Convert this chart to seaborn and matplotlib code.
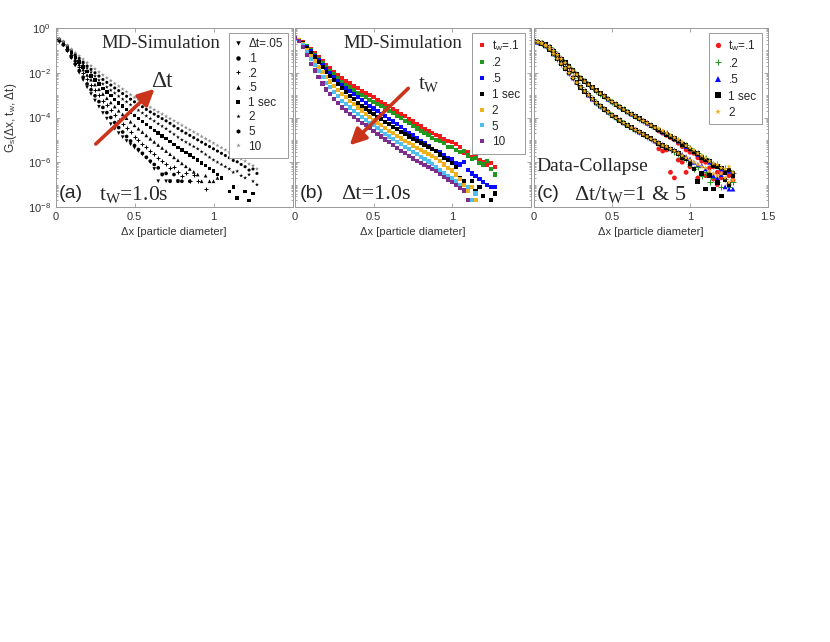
import numpy as np
import matplotlib
matplotlib.use("Agg")
import matplotlib.pyplot as plt
from matplotlib.lines import Line2D
from matplotlib.ticker import FixedLocator, LogLocator, NullFormatter
import seaborn as sns

nan = np.nan
STEP = 0.025  # bin width, particle diameters

# ---- panel (a): log10 Gs at tw = 1 s, one list per delta t ----
a_dt005 = [-0.50, -0.58, -0.77, -1.04, -1.35, -1.68, -2.00, -2.33, -2.65, -2.95,
           -3.24, -3.52, -3.80, -4.05, -4.30, -4.50, -4.70, -4.88, -5.05, -5.20,
           -5.35, -5.50, -5.65, -5.80, -6.00, -6.30, -6.85, -6.55, -6.85, -6.85,
           nan, -6.85]
a_dt01 = [-0.50, -0.57, -0.75, -1.00, -1.30, -1.60, -1.90, -2.20, -2.50, -2.76,
          -3.03, -3.29, -3.55, -3.78, -4.00, -4.23, -4.45, -4.65, -4.85, -5.05,
          -5.25, -5.43, -5.60, -5.78, -5.95, -6.10, -6.25, -6.55, -6.50, -6.85,
          -6.55, -6.85, -6.85, nan, -6.85]
a_dt02 = [-0.50, -0.56, -0.72, -0.95, -1.20, -1.48, -1.75, -2.03, -2.30, -2.54,
          -2.78, -3.01, -3.25, -3.46, -3.68, -3.89, -4.10, -4.29, -4.48, -4.66,
          -4.85, -5.01, -5.18, -5.34, -5.50, -5.65, -5.80, -5.95, -6.10, -6.25,
          -6.20, -6.45, -6.60, -6.50, -6.85, -6.55, -6.85, nan, -7.20]
a_dt05 = [-0.50, -0.55, -0.70, -0.91, -1.15, -1.39, -1.63, -1.86, -2.10, -2.31,
          -2.53, -2.74, -2.95, -3.14, -3.33, -3.51, -3.70, -3.86, -4.03, -4.19,
          -4.35, -4.50, -4.65, -4.80, -4.95, -5.09, -5.23, -5.36, -5.50, -5.64,
          -5.78, -5.91, -6.05, -6.18, -6.30, -6.43, -6.55, -6.85, -6.60, -6.85,
          -6.85, -6.70]
a_dt1 = [-0.50, -0.54, -0.68, -0.88, -1.10, -1.31, -1.52, -1.74, -1.95, -2.14,
         -2.33, -2.51, -2.70, -2.86, -3.03, -3.19, -3.35, -3.49, -3.63, -3.76,
         -3.90, -4.04, -4.18, -4.31, -4.45, -4.58, -4.70, -4.83, -4.95, -5.08,
         -5.20, -5.33, -5.45, -5.56, -5.68, -5.79, -5.90, -6.03, -6.15, -6.28,
         -6.40, -6.55, -6.70, nan, -7.30, -7.10, -7.60, nan, -7.30, -7.70,
         -7.40]
a_dt2 = [-0.47, -0.51, -0.64, -0.84, -1.05, -1.24, -1.43, -1.61, -1.80, -1.98,
         -2.15, -2.33, -2.50, -2.64, -2.78, -2.91, -3.05, -3.18, -3.30, -3.43,
         -3.55, -3.68, -3.80, -3.93, -4.05, -4.16, -4.28, -4.39, -4.50, -4.63,
         -4.75, -4.88, -5.00, -5.10, -5.20, -5.30, -5.40, -5.53, -5.65, -5.78,
         -5.90, -6.00, -6.10, -6.20, -6.30, -6.45, -6.40, -6.60, -6.70, -6.55,
         -6.85, -7.00]
a_dt5 = [-0.45, -0.49, -0.62, -0.80, -1.00, -1.18, -1.35, -1.53, -1.70, -1.85,
         -2.00, -2.15, -2.30, -2.43, -2.55, -2.68, -2.80, -2.93, -3.05, -3.18,
         -3.30, -3.41, -3.52, -3.64, -3.75, -3.85, -3.95, -4.05, -4.15, -4.26,
         -4.38, -4.49, -4.60, -4.70, -4.80, -4.90, -5.00, -5.10, -5.20, -5.30,
         -5.40, -5.50, -5.60, -5.70, -5.80, -5.92, -5.98, -6.10, -6.20, -6.35,
         -6.30, -6.50]
a_dt10 = [-0.45, -0.48, -0.60, -0.77, -0.95, -1.10, -1.25, -1.40, -1.55, -1.69,
          -1.83, -1.97, -2.10, -2.23, -2.35, -2.48, -2.60, -2.73, -2.85, -2.98,
          -3.10, -3.21, -3.32, -3.44, -3.55, -3.65, -3.75, -3.85, -3.95, -4.05,
          -4.15, -4.25, -4.35, -4.45, -4.55, -4.65, -4.75, -4.85, -4.95, -5.05,
          -5.15, -5.25, -5.35, -5.45, -5.55, -5.65, -5.78, -5.85, -5.95, -6.08,
          -6.15, -6.30]
a_labels = ["Δt=.05", ".1", ".2", ".5", "1 sec", "2", "5", "10"]

# ---- panel (b): log10 Gs at delta t = 1 s, one list per tw ----
b_tw01 = [-0.50, -0.55, -0.65, -0.80, -0.95, -1.13, -1.30, -1.48, -1.65, -1.80,
          -1.95, -2.10, -2.25, -2.36, -2.48, -2.59, -2.70, -2.80, -2.90, -3.00,
          -3.10, -3.20, -3.30, -3.40, -3.50, -3.61, -3.73, -3.84, -3.95, -4.06,
          -4.18, -4.29, -4.40, -4.50, -4.60, -4.70, -4.80, -4.85, -4.95, -5.05,
          -5.10, -5.20, -5.30, -5.60, -5.55, -5.75, -5.65, -5.90, -6.00, -6.10,
          -6.05, -6.20]
b_tw02 = [-0.50, -0.55, -0.67, -0.83, -1.00, -1.19, -1.38, -1.56, -1.75, -1.91,
          -2.08, -2.24, -2.40, -2.53, -2.65, -2.78, -2.90, -3.00, -3.10, -3.20,
          -3.30, -3.40, -3.50, -3.60, -3.70, -3.81, -3.93, -4.04, -4.15, -4.26,
          -4.38, -4.49, -4.60, -4.70, -4.80, -4.90, -5.00, -5.05, -5.15, -5.30,
          -5.30, -5.45, -5.55, -5.50, -5.70, -5.85, -5.80, -6.05, -6.10, -5.95,
          -6.30, -6.55]
b_tw05 = [-0.50, -0.56, -0.69, -0.86, -1.05, -1.25, -1.45, -1.65, -1.85, -2.03,
          -2.20, -2.38, -2.55, -2.69, -2.83, -2.96, -3.10, -3.23, -3.35, -3.48,
          -3.60, -3.71, -3.83, -3.94, -4.05, -4.18, -4.30, -4.43, -4.55, -4.68,
          -4.80, -4.93, -5.05, -5.16, -5.28, -5.39, -5.50, -5.55, -5.70, -5.80,
          -5.85, -6.05, -6.10, -6.00, -6.35, -6.50, -6.60, -6.75, -6.90, -7.00,
          -7.10, -7.10]
b_tw1 = [-0.50, -0.55, -0.69, -0.88, -1.10, -1.31, -1.52, -1.74, -1.95, -2.14,
         -2.33, -2.51, -2.70, -2.86, -3.03, -3.19, -3.35, -3.48, -3.60, -3.73,
         -3.85, -3.96, -4.08, -4.19, -4.30, -4.41, -4.53, -4.64, -4.75, -4.85,
         -4.95, -5.05, -5.15, -5.24, -5.33, -5.41, -5.50, -5.65, -5.80, -5.90,
         -6.05, -6.20, -6.70, -6.85, -7.10, -6.85, -7.30, -7.10, -7.50, nan,
         -7.70, -7.40]
b_tw2 = [-0.50, -0.56, -0.73, -0.97, -1.25, -1.49, -1.73, -1.96, -2.20, -2.39,
         -2.58, -2.76, -2.95, -3.10, -3.25, -3.40, -3.55, -3.69, -3.83, -3.96,
         -4.10, -4.23, -4.35, -4.48, -4.60, -4.71, -4.83, -4.94, -5.05, -5.15,
         -5.25, -5.35, -5.45, -5.54, -5.63, -5.71, -5.80, -5.95, -6.10, -6.25,
         -6.37, -6.55, -6.74, -7.00, -7.30, -7.10, -7.70]
b_tw5 = [-0.50, -0.58, -0.78, -1.07, -1.40, -1.66, -1.93, -2.19, -2.45, -2.65,
         -2.85, -3.05, -3.25, -3.40, -3.55, -3.70, -3.85, -3.98, -4.10, -4.23,
         -4.35, -4.48, -4.60, -4.73, -4.85, -4.96, -5.08, -5.19, -5.30, -5.41,
         -5.53, -5.64, -5.75, -5.86, -5.97, -6.08, -6.20, -6.35, -6.50, -6.60,
         -6.70, -6.85, -7.00, -7.30, -7.10, -7.70, -7.40]
b_tw10 = [-0.45, -0.58, -0.85, -1.20, -1.60, -1.90, -2.20, -2.48, -2.75, -2.96,
          -3.16, -3.36, -3.55, -3.69, -3.83, -3.96, -4.10, -4.23, -4.35, -4.48,
          -4.60, -4.73, -4.85, -4.98, -5.10, -5.23, -5.35, -5.48, -5.60, -5.71,
          -5.83, -5.94, -6.05, -6.14, -6.23, -6.31, -6.40, -6.52, -6.65, -6.77,
          -6.89, -7.00, -7.15, -7.26, -7.70]
b_labels = ["t$_\\mathsf{w}$=.1", ".2", ".5", "1 sec", "2", "5", "10"]

# ---- panel (c): collapse, dt/tw = 5 (upper) and dt/tw = 1 (lower) ----
# common part of each bundle up to 0.775, then the tail of every tw
c_upper_core = [-0.60, -0.62, -0.67, -0.75, -0.85, -1.02, -1.20, -1.38, -1.55, -1.73,
                -1.90, -2.08, -2.25, -2.39, -2.53, -2.66, -2.80, -2.93, -3.05, -3.18,
                -3.30, -3.41, -3.53, -3.64, -3.75, -3.85, -3.95, -4.05, -4.15, -4.25,
                -4.35, -4.45]
c_lower_core = [-0.60, -0.63, -0.69, -0.80, -0.95, -1.16, -1.37, -1.59, -1.80, -2.01,
                -2.23, -2.44, -2.65, -2.83, -3.00, -3.18, -3.35, -3.49, -3.63, -3.76,
                -3.90, -4.01, -4.13, -4.24, -4.35, -4.45, -4.55, -4.65, -4.75, -4.85,
                -4.95, -5.05]
c_upper_tail = {
    ".1": [-4.60, -4.70, -4.80, -4.90, -5.00, -5.15, -5.30, -5.45, -5.55, -5.60,
           -5.80, -5.95, -6.00, -6.25, -6.20, -6.45, -6.50, -6.45, -6.60, -6.50],
    ".2": [-4.55, -4.65, -4.70, -4.85, -4.90, -5.00, -5.20, -5.25, -5.35, -5.50,
           -5.60, -5.75, -5.80, -6.00, -6.15, -6.10, -6.30, -6.25, -6.35, -6.50],
    ".5": [-4.55, -4.65, -4.75, -4.85, -4.95, -5.05, -5.15, -5.30, -5.40, -5.50,
           -5.65, -5.75, -5.85, -6.00, -6.05, -6.20, -6.30, -6.45, -6.40, -6.55],
    "1": [-4.55, -4.65, -4.75, -4.85, -4.95, -5.05, -5.20, -5.25, -5.40, -5.55,
          -5.60, -5.80, -5.90, -5.95, -6.15, -6.20, -6.25, -6.45, -6.35, -6.50],
    "2": [-4.50, -4.60, -4.70, -4.80, -4.90, -5.00, -5.10, -5.25, -5.35, -5.45,
          -5.60, -5.70, -5.80, -5.95, -6.05, -6.10, -6.25, -6.30, -6.20, -6.45],
}
c_lower_tail = {
    ".1": [-5.40, -5.50, -5.45, -6.45, -6.70, -5.90, -6.00, -6.45, -6.20, nan,
           -6.70, -6.50, -6.60, nan, -6.75, -7.00, -6.70, nan, -7.00, -6.80],
    ".2": [-5.20, -5.30, -5.35, -5.45, -5.55, -5.65, -5.75, -5.85, -6.10, -6.30,
           -6.20, -6.60, -6.45, -6.90, -6.70, -6.90, -7.10, -6.75, -7.10, -6.90],
    ".5": [-5.10, -5.20, -5.30, -5.40, -5.45, -5.55, -5.65, -5.75, -5.85, -6.00,
           -6.10, -6.15, -6.30, -6.45, -6.60, -6.70, -6.55, -7.10, -7.20, -7.20],
    "1": [-5.15, -5.25, -5.35, -5.40, -5.50, -5.60, -5.80, -5.85, -6.05, -6.30,
          -6.85, -6.50, -7.20, -6.60, -7.20, -6.90, -7.50, -6.80, -7.00, -6.60],
    "2": [-5.15, -5.25, -5.30, -5.40, -5.50, -5.60, -5.70, -5.80, -5.90, -6.00,
          -6.10, -6.20, -6.25, -6.40, -6.50, -6.60, -6.50, -6.70, -6.90, -6.80],
}
c_keys = [".1", ".2", ".5", "1", "2"]
c_labels = ["t$_\\mathsf{w}$=.1", ".2", ".5", "1 sec", "2"]

ARROW = "#c9341a"
SPINE = "#9a9a9a"
SERIF = ["Liberation Serif", "DejaVu Serif"]


def bins(vals):
    return np.arange(len(vals)) * STEP


def draw(ax, vals, marker, color, size):
    x = bins(vals)
    g = 10.0 ** np.array(vals, dtype=float)
    if marker == "+":
        sns.scatterplot(x=x, y=g, ax=ax, marker="+", color=color, s=size,
                        linewidth=0.7, legend=False)
    else:
        sns.scatterplot(x=x, y=g, ax=ax, marker=marker, color=color, s=size,
                        linewidth=0, edgecolor="none", legend=False)


def style_axes(ax, show_y, last_x):
    ax.set_yscale("log")
    ax.set_xlim(0, 1.5)
    ax.set_ylim(1e-8, 1)
    ax.set_xlabel("Δx [particle diameter]", fontsize=8, color="#333333", labelpad=4)
    ax.set_xticks([0, 0.5, 1, 1.5])
    ax.set_xticklabels(["0", "0.5", "1", "1.5" if last_x else ""])
    ax.yaxis.set_major_locator(FixedLocator([1e-8, 1e-6, 1e-4, 1e-2, 1]))
    ax.yaxis.set_minor_locator(LogLocator(base=10, subs=np.arange(1, 10), numticks=30))
    ax.yaxis.set_minor_formatter(NullFormatter())
    if show_y:
        ax.set_yticklabels([r"$\mathsf{10^{-8}}$", r"$\mathsf{10^{-6}}$",
                            r"$\mathsf{10^{-4}}$", r"$\mathsf{10^{-2}}$",
                            r"$\mathsf{10^{0}}$"])
    else:
        ax.set_yticklabels([])
    ax.tick_params(which="both", direction="in", top=True, right=True,
                   color=SPINE, labelsize=8, labelcolor="#333333", width=0.6)
    ax.tick_params(which="major", length=3)
    ax.tick_params(which="minor", length=1.6)
    ax.tick_params(axis="x", which="minor", bottom=False, top=False)
    for sp in ax.spines.values():
        sp.set_color(SPINE)
        sp.set_linewidth(0.7)
    ax.set_facecolor("white")


def add_legend(ax, markers, colors, labels, anchor, spacing, ms):
    handles = [Line2D([], [], marker=m, linestyle="none", color=c, markersize=ms,
                      markeredgewidth=0.7 if m == "+" else 0)
               for m, c in zip(markers, colors)]
    leg = ax.legend(handles, labels, loc="upper right", bbox_to_anchor=anchor,
                    borderaxespad=0, fontsize=8.5, frameon=True, fancybox=False,
                    handlelength=0.7, handletextpad=0.5, labelspacing=spacing,
                    borderpad=0.45, framealpha=1)
    leg.get_frame().set_edgecolor(SPINE)
    leg.get_frame().set_linewidth(0.7)


sns.set_style("ticks")
plt.rcParams["font.family"] = ["Liberation Sans", "DejaVu Sans"]
plt.rcParams["mathtext.fontset"] = "custom"
plt.rcParams["mathtext.rm"] = "Liberation Serif"
plt.rcParams["mathtext.it"] = "Liberation Serif:italic"
plt.rcParams["mathtext.bf"] = "Liberation Serif:bold"
plt.rcParams["mathtext.sf"] = "Liberation Sans"

fig = plt.figure(figsize=(8.3, 6.42), dpi=100)
fig.patch.set_facecolor("white")
H = 179 / 642
B = 1 - 207 / 642
ax_a = fig.add_axes([55.5 / 830, B, 237 / 830, H])
ax_b = fig.add_axes([295 / 830, B, 235.5 / 830, H])
ax_c = fig.add_axes([534 / 830, B, 234 / 830, H])

# panel (a)
a_series = [a_dt005, a_dt01, a_dt02, a_dt05, a_dt1, a_dt2, a_dt5, a_dt10]
a_markers = ["v", "o", "+", "^", "s", "*", "h", "*"]
a_colors = ["black"] * 7 + ["#8c8c8c"]
a_sizes = [7, 7, 9, 7, 6, 9, 6, 10]
for vals, m, c, s in zip(a_series, a_markers, a_colors, a_sizes):
    draw(ax_a, vals, m, c, s)
style_axes(ax_a, True, False)
ax_a.set_ylabel("G$_\\mathsf{s}$(Δx, t$_\\mathsf{w}$, Δt)", fontsize=8.5, color="#333333")
ax_a.yaxis.set_label_coords(-0.152, 0.5)
add_legend(ax_a, a_markers, a_colors, a_labels, (0.981, 0.972), 0.22, 3.2)
ax_a.text(0.196, 0.915, "MD-Simulation", transform=ax_a.transAxes, family=SERIF,
          fontsize=13.5, va="center", ha="left")
ax_a.text(0.012, 0.075, "(a)", transform=ax_a.transAxes, fontsize=14,
          va="center", ha="left")
ax_a.text(0.185, 0.072, "t$_\\mathrm{W}$=1.0s", transform=ax_a.transAxes,
          family=SERIF, fontsize=15.5, va="center", ha="left")
ax_a.annotate("", xy=(0.418, 0.66), xytext=(0.170, 0.352), xycoords="axes fraction",
              arrowprops=dict(arrowstyle="-|>,head_length=0.7,head_width=0.35",
                              lw=2.6, color=ARROW, shrinkA=0, shrinkB=0,
                              mutation_scale=14))
ax_a.text(0.403, 0.70, "Δt", transform=ax_a.transAxes, family=SERIF, fontsize=17,
          va="center", ha="left")

# panel (b)
b_series = [b_tw01, b_tw02, b_tw05, b_tw1, b_tw2, b_tw5, b_tw10]
b_colors = ["#f01a1a", "#1f9a1f", "#0a0aff", "black", "#EDB120", "#4DBEEE", "#7E2F8E"]
for vals, c in zip(b_series, b_colors):
    draw(ax_b, vals, "s", c, 9)
style_axes(ax_b, False, False)
add_legend(ax_b, ["s"] * 7, b_colors, b_labels, (0.977, 0.972), 0.33, 3.2)
ax_b.text(0.204, 0.915, "MD-Simulation", transform=ax_b.transAxes, family=SERIF,
          fontsize=13.5, va="center", ha="left")
ax_b.text(0.021, 0.075, "(b)", transform=ax_b.transAxes, fontsize=14,
          va="center", ha="left")
ax_b.text(0.195, 0.072, "Δt=1.0s", transform=ax_b.transAxes, family=SERIF,
          fontsize=16, va="center", ha="left")
ax_b.annotate("", xy=(0.232, 0.345), xytext=(0.481, 0.663), xycoords="axes fraction",
              arrowprops=dict(arrowstyle="-|>,head_length=0.7,head_width=0.35",
                              lw=2.6, color=ARROW, shrinkA=0, shrinkB=0,
                              mutation_scale=14))
ax_b.text(0.522, 0.685, "t$_\\mathrm{W}$", transform=ax_b.transAxes, family=SERIF,
          fontsize=15, va="center", ha="left")

# panel (c)
c_markers = ["o", "+", "^", "s", "*"]
c_colors = ["#f01a1a", "#1f9a1f", "#0a0aff", "black", "#EDB120"]
c_sizes = [12, 14, 12, 11, 16]
for k, m, c, s in zip(c_keys, c_markers, c_colors, c_sizes):
    draw(ax_c, c_upper_core + c_upper_tail[k], m, c, s)
    draw(ax_c, c_lower_core + c_lower_tail[k], m, c, s)
style_axes(ax_c, False, True)
add_legend(ax_c, c_markers, c_colors, c_labels, (0.974, 0.972), 0.38, 3.8)
ax_c.text(0.011, 0.225, "Data-Collapse", transform=ax_c.transAxes, family=SERIF,
          fontsize=14, va="center", ha="left")
ax_c.text(0.011, 0.075, "(c)", transform=ax_c.transAxes, fontsize=14,
          va="center", ha="left")
ax_c.text(0.17, 0.072, "Δt/t$_\\mathrm{W}$=1 & 5", transform=ax_c.transAxes,
          family=SERIF, fontsize=16, va="center", ha="left")

fig.savefig("out.png", dpi=100, facecolor="white")
plt.close(fig)
